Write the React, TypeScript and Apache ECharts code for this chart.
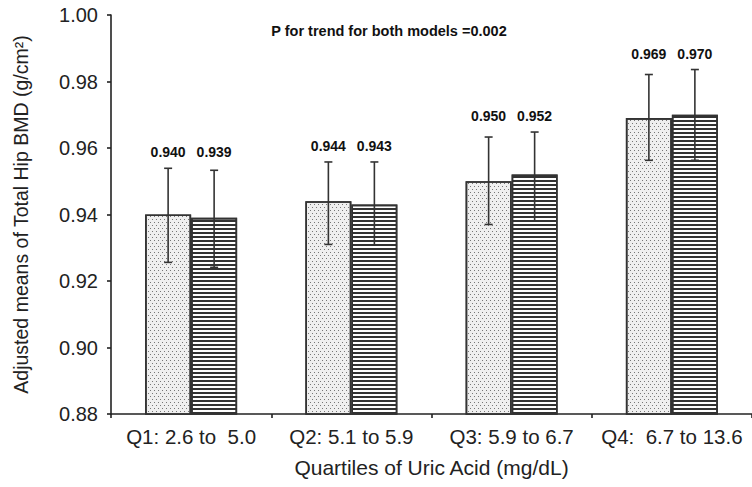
import React, { useEffect, useRef } from "react";
import * as echarts from "echarts";

const categories = ["Q1: 2.6 to  5.0", "Q2: 5.1 to 5.9", "Q3: 5.9 to 6.7", "Q4:  6.7 to 13.6"];
const model1Means = [0.94, 0.944, 0.95, 0.969];
const model1Lower = [0.9256, 0.931, 0.937, 0.9563];
const model1Upper = [0.9539, 0.9558, 0.9633, 0.9821];
const model2Means = [0.939, 0.943, 0.952, 0.97];
const model2Lower = [0.9241, 0.9308, 0.9381, 0.9563];
const model2Upper = [0.9533, 0.9558, 0.9648, 0.9836];
const yTicks = [0.88, 0.9, 0.92, 0.94, 0.96, 0.98, 1.0];
const titleText = "P for trend for both models =0.002";
const yName = "Adjusted means of Total Hip BMD (g/cm²)";
const xName = "Quartiles of Uric Acid (mg/dL)";

const FONT = "'Liberation Sans', Arial, sans-serif";
const BAR_W = 46;

function errorSeries(lower: number[], upper: number[], means: number[], offset: number, otherUpper: number[]) {
  return {
    type: "custom",
    z: 5,
    data: categories.map((_, i) => [i, lower[i], upper[i], means[i], otherUpper[i]]),
    encode: { x: 0, y: [1, 2] },
    renderItem: (params: any, api: any) => {
      const i = api.value(0);
      const lo = api.coord([i, api.value(1)]);
      const hi = api.coord([i, api.value(2)]);
      const topVal = Math.max(api.value(2), api.value(4));
      const top = api.coord([i, topVal]);
      const x = lo[0] + offset;
      const cap = 4;
      const st = { stroke: "#333", lineWidth: 1.6 };
      return {
        type: "group",
        children: [
          { type: "line", shape: { x1: x, y1: lo[1], x2: x, y2: hi[1] }, style: st },
          { type: "line", shape: { x1: x - cap, y1: lo[1], x2: x + cap, y2: lo[1] }, style: st },
          { type: "line", shape: { x1: x - cap, y1: hi[1], x2: x + cap, y2: hi[1] }, style: st },
          {
            type: "text",
            x: x,
            y: top[1] - 16,
            style: {
              text: api.value(3).toFixed(3),
              fill: "#111",
              font: `bold 14px ${FONT}`,
              align: "center",
              verticalAlign: "middle",
            },
          },
        ],
      };
    },
  };
}

export default function App() {
  const ref = useRef<HTMLDivElement>(null);
  useEffect(() => {
    if (!ref.current) return;
    const chart = echarts.init(ref.current, undefined, { renderer: "svg" });
    chart.setOption({
      animation: false,
      backgroundColor: "#fff",
      title: {
        text: titleText,
        left: 384,
        textAlign: "center",
        top: 18,
        textStyle: { fontFamily: FONT, fontSize: 14.5, fontWeight: "bold", color: "#111" },
      },
      grid: { left: 111, top: 15, width: 642, height: 399 },
      xAxis: {
        type: "category",
        data: categories,
        axisLine: { lineStyle: { color: "#222", width: 1.6 } },
        axisTick: { show: true, length: 4, lineStyle: { color: "#222", width: 1.6 } },
        axisLabel: { color: "#222", fontFamily: FONT, fontSize: 20.5, margin: 12, interval: 0, hideOverlap: false },
        name: xName,
        nameLocation: "middle",
        nameGap: 43,
        nameTextStyle: { color: "#222", fontFamily: FONT, fontSize: 21 },
      },
      yAxis: {
        type: "value",
        min: yTicks[0],
        max: yTicks[yTicks.length - 1],
        interval: 0.02,
        splitLine: { show: false },
        axisLine: { show: true, lineStyle: { color: "#222", width: 1.6 } },
        axisTick: { show: true, length: 4, lineStyle: { color: "#222", width: 1.6 } },
        axisLabel: {
          color: "#222",
          fontFamily: FONT,
          fontSize: 20,
          margin: 13,
          formatter: (v: number) => v.toFixed(2),
        },
        name: yName,
        nameLocation: "middle",
        nameGap: 80,
        nameTextStyle: { color: "#222", fontFamily: FONT, fontSize: 19.5 },
      },
      series: [
        {
          type: "bar",
          data: model1Means,
          barWidth: BAR_W,
          barGap: "0%",
          itemStyle: {
            color: "#efefef",
            borderColor: "#333",
            borderWidth: 1.6,
            decal: {
              symbol: "rect",
              symbolSize: 1,
              dashArrayX: [[1, 3], [0, 2, 1, 1]],
              dashArrayY: [1, 2],
              rotation: 0,
              color: "#777",
            },
          },
        },
        {
          type: "bar",
          data: model2Means,
          barWidth: BAR_W,
          barGap: "0%",
          itemStyle: {
            color: "#fff",
            borderColor: "#333",
            borderWidth: 1.6,
            decal: {
              symbol: "rect",
              symbolSize: 1,
              dashArrayX: [10, 0],
              dashArrayY: [2, 2],
              rotation: 0,
              color: "#333",
            },
          },
        },
        errorSeries(model1Lower, model1Upper, model1Means, -BAR_W / 2, model2Upper),
        errorSeries(model2Lower, model2Upper, model2Means, BAR_W / 2, model1Upper),
      ],
    });
    return () => chart.dispose();
  }, []);
  return (
    <div
      ref={ref}
      style={{ position: "fixed", left: 0, top: 0, width: 752, height: 487, background: "#fff" }}
    />
  );
}
